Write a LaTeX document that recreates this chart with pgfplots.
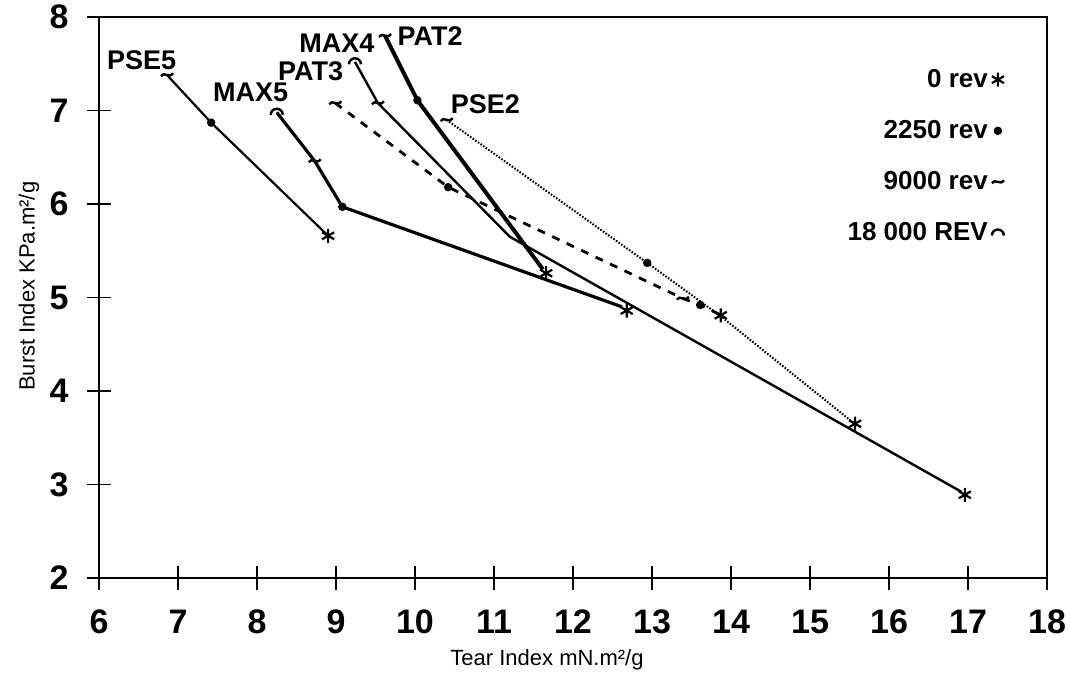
\documentclass[border=0pt]{standalone}
\usepackage{fontspec}
\setmainfont{Liberation Sans}
\usepackage{pgfplots}
\pgfplotsset{compat=1.18}

% marks used in the original: arc for 18 000 rev, tilde for 9000 rev
\pgfdeclareplotmark{arcm}{%
  \pgfpathmoveto{\pgfpoint{-\pgfplotmarksize}{-0.4\pgfplotmarksize}}%
  \pgfpatharc{180}{0}{\pgfplotmarksize}%
  \pgfusepathqstroke}
\pgfdeclareplotmark{tildem}{%
  \pgfpathmoveto{\pgfpoint{-\pgfplotmarksize}{-0.2\pgfplotmarksize}}%
  \pgfpathcurveto{\pgfpoint{-0.5\pgfplotmarksize}{0.7\pgfplotmarksize}}%
    {\pgfpoint{0.4\pgfplotmarksize}{-0.7\pgfplotmarksize}}%
    {\pgfpoint{\pgfplotmarksize}{0.3\pgfplotmarksize}}%
  \pgfusepathqstroke}

\begin{document}
\begin{tikzpicture}
\useasboundingbox (-49.5pt,-50.5pt) rectangle (485.5pt,289pt);
\begin{axis}[at={(0,0)}, anchor=south west,
  scale only axis, width=474pt, height=280.5pt,
  xmin=6, xmax=18, ymin=2, ymax=8,
  xtick={6,...,18}, ytick={2,...,8},
  tick pos=left, tick align=center, major tick length=12pt,
  axis line style={line width=1.4pt},
  tick style={line width=0.9pt, black},
  /pgf/number format/assume math mode=true,
  ticklabel style={font=\bfseries\fontsize{17}{19}\selectfont},
  xticklabel style={anchor=center, yshift=-16pt},
  yticklabel style={anchor=center, xshift=-14pt},
  xlabel={Tear Index mN.m²/g},
  ylabel={Burst Index KPa.m²/g},
  label style={font=\fontsize{11}{13}\selectfont},
  xlabel style={at={(axis description cs:0.4726,0)}, anchor=center, yshift=-41pt},
  ylabel style={at={(axis description cs:0,0.52)}, anchor=center, yshift=35pt},
  legend style={draw=none, fill=none, at={(0.955,0.915)}, anchor=north east,
    font=\bfseries\fontsize{13}{15}\selectfont, row sep=11pt, inner sep=0pt},
  legend plot pos=right, legend cell align=right,
  legend image code/.code={\draw[mark repeat=2,mark phase=2,#1]
    plot coordinates {(0cm,0cm) (0.12cm,0cm) (0.24cm,0cm)};},
  clip=false]

% lines
\addplot[forget plot, black, line width=1.1pt] coordinates {
  (6.86,7.38) (7.42,6.87) (8.90,5.66)};                       % PSE5
\addplot[forget plot, black, line width=1.6pt] coordinates {
  (8.25,6.98) (8.73,6.46) (9.08,5.97) (12.62,4.90)};          % MAX5
\addplot[forget plot, black, line width=2pt] coordinates {
  (9.62,7.80) (10.03,7.11) (11.62,5.30)};                     % PAT2
\addplot[forget plot, black, line width=1.2pt] coordinates {
  (9.24,7.52) (9.53,7.08) (11.20,5.65) (16.92,2.92)};         % PAT3
\addplot[forget plot, black, line width=1.4pt, dash pattern=on 4pt off 4pt] coordinates {
  (8.99,7.08) (10.42,6.18) (13.39,4.99) (13.61,4.92) (13.85,4.82)}; % dashed
\addplot[forget plot, black, line width=1pt, dash pattern=on 0.8pt off 0.8pt] coordinates {
  (10.40,6.90) (12.94,5.37) (13.87,4.80) (15.55,3.66)};       % PSE2

% marks by number of revolutions
\addplot[only marks, black, mark=asterisk, mark size=3.5pt, line width=1.1pt] coordinates {
  (8.90,5.66) (12.68,4.86) (11.66,5.26) (13.87,4.81) (15.57,3.65) (16.96,2.89)};
\addlegendentry{0 rev}
\addplot[only marks, black, mark=*, mark size=1.9pt] coordinates {
  (7.42,6.87) (9.08,5.97) (10.03,7.11) (10.42,6.18) (12.94,5.37) (13.61,4.92)};
\addlegendentry{2250 rev}
\addplot[only marks, black, mark=tildem, mark size=3pt, line width=1.2pt] coordinates {
  (6.86,7.38) (8.73,6.46) (9.53,7.08) (9.62,7.80) (8.99,7.08) (10.40,6.90) (13.39,4.99)};
\addlegendentry{9000 rev}
\addplot[only marks, black, mark=arcm, mark size=3pt, line width=1.2pt] coordinates {
  (8.25,6.98) (9.24,7.52)};
\addlegendentry{18 000 REV}

% series names
\begin{scope}[every node/.style={font=\bfseries\fontsize{13.5}{15}\selectfont, inner sep=0pt}]
\node at (axis cs:6.54,7.54) {PSE5};
\node at (axis cs:7.92,7.19) {MAX5};
\node at (axis cs:8.68,7.42) {PAT3};
\node at (axis cs:9.01,7.72) {MAX4};
\node at (axis cs:10.19,7.80) {PAT2};
\node at (axis cs:10.89,7.07) {PSE2};
\end{scope}
\end{axis}
\end{tikzpicture}
\end{document}
